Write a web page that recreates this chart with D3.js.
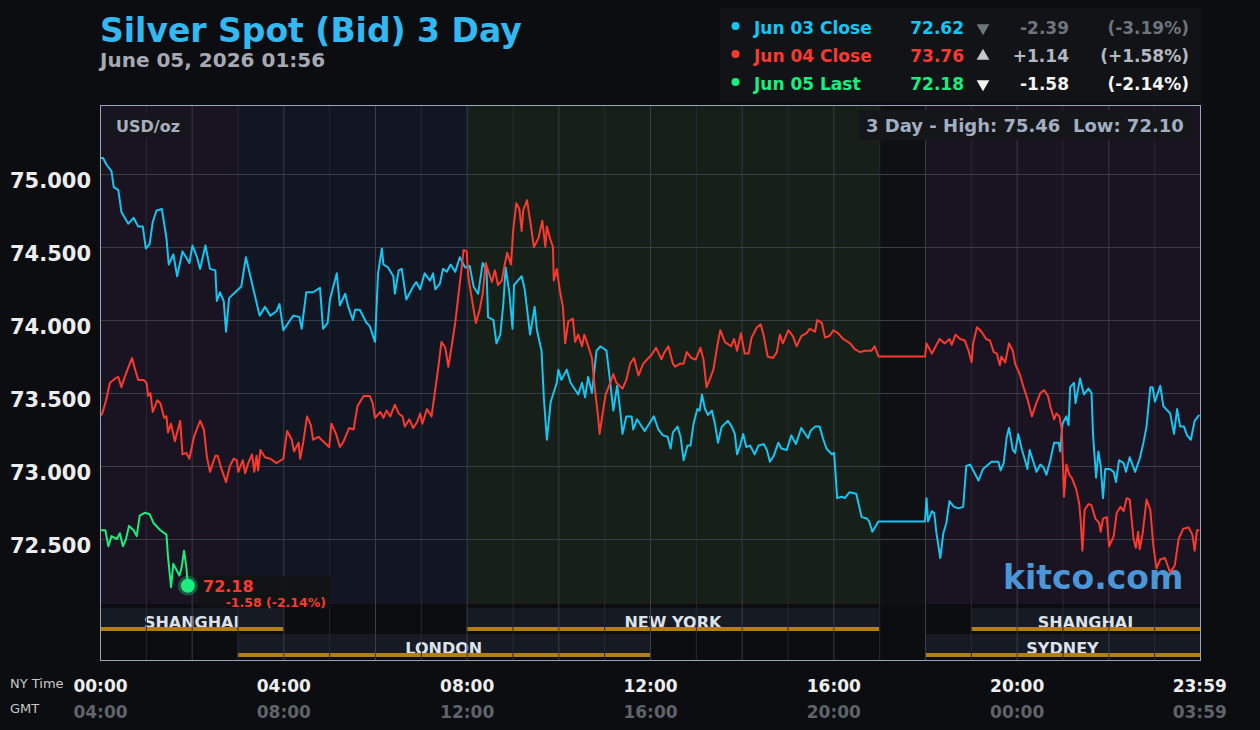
<!DOCTYPE html>
<html>
<head>
<meta charset="utf-8">
<script src="https://cdn.jsdelivr.net/npm/d3@7"></script>
<style>
  body { margin: 0; background: #0b0d10; }
  svg { display: block; font-family: "DejaVu Sans", sans-serif; font-weight: bold; }
</style>
</head>
<body>
<svg id="chart" width="1260" height="730"></svg>
<script>
// ---- data (minute of NY day, bid price) ----
const jun03 = [[0,75.11],[4,75.11],[9,75.06],[15,75.02],[18,74.91],[24,74.89],[28,74.74],[37,74.66],[44,74.70],[50,74.64],[56,74.64],[60,74.49],[65,74.52],[69,74.67],[74,74.75],[81,74.76],[87,74.56],[90,74.38],[96,74.45],[101,74.30],[108,74.47],[117,74.39],[121,74.51],[127,74.43],[131,74.35],[138,74.51],[144,74.35],[151,74.34],[153,74.13],[157,74.19],[162,74.13],[165,73.92],[169,74.15],[177,74.19],[185,74.23],[191,74.43],[199,74.25],[209,74.03],[216,74.09],[223,74.03],[231,74.06],[235,74.11],[240,73.93],[249,74.00],[253,74.03],[261,74.02],[264,73.94],[270,74.19],[279,74.19],[288,74.22],[292,73.94],[298,73.98],[301,74.14],[310,74.32],[314,74.10],[321,74.18],[325,74.09],[331,74.00],[334,74.07],[340,74.07],[349,73.98],[353,73.96],[360,73.85],[364,74.32],[369,74.49],
  [371,74.38],[377,74.36],[384,74.30],[386,74.18],[391,74.34],[395,74.35],[401,74.14],[410,74.23],[414,74.26],[419,74.21],[425,74.32],[432,74.27],[436,74.32],[439,74.21],[445,74.25],[449,74.35],[454,74.33],[459,74.38],[465,74.33],[471,74.43],[478,74.36],[484,74.37],[489,74.23],[495,74.18],[501,74.39],[506,74.34],[508,74.02],[515,74.00],[519,73.84],[524,73.90],[528,74.11],[531,74.36],[536,74.18],[540,73.94],[542,74.24],[552,74.30],[556,74.21],[563,73.90],[569,74.09],[572,73.93],[578,73.79],[581,73.47],[585,73.18],[590,73.44],[598,73.57],[600,73.66],[604,73.59],[611,73.66],[616,73.57],[626,73.49],[631,73.57],[635,73.47],[639,73.61],[644,73.50],[650,73.79],[655,73.82],[663,73.79],[668,73.57],[672,73.38],[677,73.55],[681,73.38],[684,73.22],[689,73.34],[696,73.34],[698,73.25],[703,73.32],[713,73.24],[719,73.29],[725,73.34],[731,73.25],
  [737,73.21],[743,73.20],[747,73.12],[750,73.23],[756,73.27],[760,73.20],[764,73.04],[769,73.14],[773,73.14],[777,73.29],[782,73.39],[785,73.38],[788,73.49],[792,73.39],[796,73.35],[801,73.38],[805,73.29],[809,73.16],[814,73.27],[822,73.31],[827,73.27],[831,73.22],[834,73.08],[838,73.14],[842,73.22],[846,73.13],[851,73.14],[857,73.08],[862,73.14],[869,73.15],[873,73.11],[877,73.03],[882,73.07],[888,73.16],[892,73.12],[899,73.11],[905,73.21],[911,73.15],[918,73.26],[927,73.19],[930,73.24],[936,73.27],[942,73.27],[947,73.18],[951,73.12],[958,73.08],[961,73.09],[963,72.94],[965,72.78],[971,72.79],[975,72.78],[981,72.82],[990,72.81],[994,72.72],[997,72.65],[1004,72.64],[1007,72.62],[1011,72.55],[1019,72.62],[1080,72.62],[1082,72.78],[1084,72.62],[1089,72.69],[1092,72.68],[1095,72.54],[1100,72.37],[1104,72.54],[1108,72.61],[1112,72.76],
  [1118,72.72],[1124,72.71],[1130,72.72],[1134,73.00],[1139,73.01],[1145,72.95],[1150,72.90],[1156,72.98],[1167,73.03],[1176,73.03],[1179,72.97],[1183,73.02],[1187,73.20],[1190,73.26],[1195,73.11],[1198,73.09],[1202,73.22],[1207,73.11],[1211,73.04],[1214,72.98],[1217,73.11],[1223,73.01],[1226,72.96],[1231,73.01],[1235,72.99],[1239,72.94],[1244,73.04],[1249,73.16],[1255,73.16],[1257,73.10],[1260,73.29],[1265,73.34],[1268,73.28],[1270,73.54],[1275,73.57],[1277,73.43],[1283,73.60],[1288,73.49],[1294,73.53],[1298,73.50],[1300,73.21],[1304,72.92],[1307,73.10],[1310,73.00],[1313,72.78],[1316,72.98],[1322,72.98],[1327,72.96],[1330,72.89],[1334,73.04],[1340,73.02],[1343,72.96],[1348,73.06],[1355,72.96],[1361,73.05],[1366,73.16],[1370,73.27],[1375,73.54],[1378,73.54],[1381,73.44],[1388,73.55],[1392,73.41],[1401,73.36],[1406,73.22],[1410,73.39],[1414,73.27],[1419,73.27],[1423,73.21],[1428,73.18],[1433,73.31],[1439,73.35]];

const jun04 = [[0,73.34],[3,73.36],[8,73.45],[13,73.57],[20,73.60],[24,73.61],[28,73.54],[31,73.59],[36,73.66],[42,73.74],[46,73.66],[50,73.59],[57,73.59],[61,73.57],[63,73.48],[66,73.50],[69,73.37],[75,73.45],[79,73.43],[84,73.33],[87,73.34],[89,73.23],[93,73.29],[98,73.17],[105,73.31],[108,73.08],[113,73.09],[117,73.05],[123,73.20],[131,73.31],[136,73.25],[140,73.06],[144,72.96],[151,73.07],[154,73.07],[159,72.98],[165,72.89],[170,73.00],[175,73.05],[179,73.04],[181,72.96],[187,73.04],[190,72.95],[194,73.02],[199,73.08],[202,72.96],[205,73.07],[207,72.97],[210,73.11],[216,73.06],[223,73.05],[231,73.02],[240,73.05],[245,73.24],[251,73.18],[254,73.10],[260,73.16],[262,73.05],[266,73.16],[271,73.34],[276,73.28],[279,73.18],[286,73.20],[292,73.17],[300,73.13],[303,73.29],[309,73.22],[314,73.13],[319,73.17],[326,73.26],[332,73.25],[337,73.41],[345,73.48],[353,73.48],[357,73.43],[360,73.33],[367,73.37],[371,73.33],[375,73.38],[380,73.34],
  [386,73.42],[391,73.36],[396,73.34],[399,73.27],[405,73.32],[410,73.26],[415,73.30],[419,73.36],[422,73.29],[428,73.39],[434,73.34],[439,73.53],[443,73.68],[447,73.85],[452,73.81],[456,73.68],[460,73.81],[465,73.98],[469,74.16],[473,74.34],[476,74.48],[480,74.47],[482,74.30],[487,74.14],[492,73.98],[497,74.07],[501,74.18],[505,74.39],[508,74.34],[513,74.26],[517,74.34],[521,74.24],[526,74.27],[529,74.36],[533,74.46],[538,74.38],[541,74.62],[545,74.80],[549,74.76],[552,74.61],[554,74.75],[559,74.82],[564,74.65],[568,74.50],[574,74.56],[579,74.68],[583,74.50],[585,74.64],[589,74.56],[593,74.50],[594,74.27],[598,74.35],[602,74.20],[606,74.09],[609,73.84],[613,73.99],[619,74.01],[622,73.85],[626,73.90],[631,73.82],[634,73.90],[638,73.84],[644,73.74],[648,73.52],[652,73.34],[654,73.22],[658,73.36],[662,73.49],[668,73.57],[672,73.63],[676,73.57],[684,73.53],[689,73.59],[694,73.70],[699,73.74],[705,73.62],[711,73.70],[718,73.74],[722,73.76],[728,73.81],[735,73.73],
  [738,73.77],[744,73.82],[750,73.70],[753,73.68],[759,73.70],[764,73.70],[768,73.78],[774,73.74],[780,73.73],[786,73.81],[790,73.73],[794,73.54],[798,73.59],[803,73.66],[808,73.82],[812,73.93],[818,73.85],[826,73.82],[830,73.87],[834,73.79],[839,73.91],[844,73.77],[849,73.77],[853,73.88],[860,73.95],[865,73.97],[869,73.89],[874,73.75],[881,73.74],[886,73.78],[890,73.90],[894,73.84],[901,73.93],[907,73.89],[912,73.82],[918,73.89],[925,73.91],[929,73.94],[936,73.92],[939,74.00],[945,73.98],[949,73.88],[955,73.89],[960,73.93],[966,73.91],[973,73.87],[982,73.84],[988,73.80],[995,73.78],[1001,73.79],[1010,73.79],[1014,73.82],[1019,73.75],[1080,73.75],[1082,73.84],[1089,73.77],[1099,73.87],[1106,73.84],[1112,73.87],
  [1115,73.83],[1120,73.90],[1126,73.87],[1132,73.86],[1137,73.79],[1141,73.71],[1143,73.84],[1148,73.95],[1154,73.92],[1160,73.87],[1165,73.86],[1170,73.78],[1174,73.77],[1178,73.69],[1180,73.75],[1185,73.71],[1190,73.84],[1195,73.79],[1198,73.70],[1204,73.63],[1209,73.54],[1214,73.46],[1217,73.40],[1220,73.34],[1225,73.42],[1231,73.50],[1236,73.52],[1241,73.48],[1244,73.41],[1249,73.32],[1252,73.36],[1256,73.34],[1259,73.25],[1262,72.79],[1265,73.01],[1269,72.94],[1272,72.92],[1278,72.84],[1282,72.74],[1284,72.61],[1286,72.42],[1289,72.70],[1294,72.74],[1298,72.73],[1303,72.64],[1308,72.61],[1310,72.55],[1313,72.64],[1318,72.65],[1321,72.45],[1327,72.52],[1331,72.68],[1336,72.72],[1340,72.69],[1344,72.78],[1348,72.77],[1353,72.50],[1356,72.44],[1359,72.55],[1361,72.43],[1365,72.54],[1370,72.77],[1375,72.70],[1379,72.45],[1383,72.30],[1388,72.36],[1394,72.37],[1401,72.27],[1407,72.32],[1412,72.50],[1418,72.57],[1425,72.58],[1430,72.53],[1433,72.42],[1436,72.56],[1439,72.56]];

const jun05 = [[0,72.56],[7,72.56],[11,72.45],[15,72.52],[22,72.50],[26,72.54],[30,72.45],[34,72.50],[38,72.59],[44,72.56],[48,72.52],[52,72.66],[59,72.68],[65,72.67],[70,72.61],[79,72.56],[87,72.53],[89,72.38],[93,72.17],[96,72.33],[99,72.30],[104,72.25],[107,72.31],[110,72.42],[113,72.31],[115,72.18]];

// legend table
const legendNames   = ['Jun 03 Close', 'Jun 04 Close', 'Jun 05 Last'];
const legendPrices  = [72.62, 73.76, 72.18];
const legendChanges = [-2.39, 1.14, -1.58];
const legendPcts    = [-3.19, 1.58, -2.14];
const highLow = [75.46, 72.10];

// axis ticks
const yTicks = [72.5, 73.0, 73.5, 74.0, 74.5, 75.0];
const xTicks = [0, 240, 480, 720, 960, 1200, 1439];
const gmtOffsetMin = 240;

// market zones (hours, NY time) and session bars
const zoneStartH = [0, 3, 8, 17, 18];
const zoneEndH   = [3, 8, 17, 18, 24];
const zoneKind   = ['asia', 'europe', 'us', 'closed', 'asia'];
const sessionNames  = ['SHANGHAI', 'LONDON', 'NEW YORK', 'SYDNEY', 'SHANGHAI'];
const sessionStartH = [0, 3, 8, 18, 19];
const sessionEndH   = [4, 12, 17, 24, 24];
const sessionRow    = [0, 1, 0, 1, 0];

// ---- styles / layout ----
const COLORS = ['#14c6f1', '#fb3a2f', '#19ee7f'];
const CHANGE_COLORS = ['#6f737b', '#b4b8bf', '#f4f4f4'];
const ZONE_FILL = { asia: '#1a1321', europe: '#121622', us: '#171f19', closed: '#0e1013' };
const M = { left: 100, right: 1200, top: 105, priceBottom: 604, bottom: 660 };
const ROW_TOP = [608, 634];

const svg = d3.select('#chart');
const x = d3.scaleLinear().domain([0, 1440]).range([M.left, M.right]);
const y = d3.scaleLinear().domain([72.055, 75.4726]).range([M.priceBottom, M.top]);
const hx = h => x(h * 60);

svg.append('rect').attr('width', 1260).attr('height', 730).attr('fill', '#0b0d10');

// zone shading
svg.append('g').selectAll('rect').data(zoneStartH).join('rect')
  .attr('x', (d, i) => hx(d))
  .attr('y', M.top)
  .attr('width', (d, i) => hx(zoneEndH[i]) - hx(d))
  .attr('height', M.priceBottom - M.top)
  .attr('fill', (d, i) => ZONE_FILL[zoneKind[i]]);

// session bar backgrounds
const sess = svg.append('g');
sess.selectAll('rect').data(sessionNames).join('rect')
  .attr('x', (d, i) => hx(sessionStartH[i]))
  .attr('y', (d, i) => ROW_TOP[sessionRow[i]])
  .attr('width', (d, i) => hx(sessionEndH[i]) - hx(sessionStartH[i]))
  .attr('height', 23)
  .attr('fill', '#151a23');

// vertical hour grid
svg.append('g').selectAll('line').data(d3.range(1, 24)).join('line')
  .attr('x1', d => hx(d) + 0.5).attr('x2', d => hx(d) + 0.5)
  .attr('y1', M.top).attr('y2', M.bottom)
  .attr('stroke', d => d % 2 === 0 ? '#3a3c46' : '#272933')
  .attr('stroke-width', 1);

// horizontal price grid
svg.append('g').selectAll('line').data(yTicks).join('line')
  .attr('x1', M.left).attr('x2', M.right)
  .attr('y1', d => Math.round(y(d)) + 0.5).attr('y2', d => Math.round(y(d)) + 0.5)
  .attr('stroke', '#3a3c46');

// watermark
svg.append('text').attr('x', 1003).attr('y', 589)
  .attr('font-size', 33).attr('fill', '#4a96d6').text('kitco.com');

// price lines
svg.append('clipPath').attr('id', 'clip')
  .append('rect').attr('x', M.left).attr('y', M.top)
  .attr('width', M.right - M.left).attr('height', M.priceBottom - M.top);

const line = d3.line().x(d => x(d[0])).y(d => y(d[1]));
svg.append('g').attr('clip-path', 'url(#clip)')
  .selectAll('path').data([jun03, jun04, jun05]).join('path')
  .attr('d', line)
  .attr('fill', 'none')
  .attr('stroke', (d, i) => COLORS[i])
  .attr('stroke-width', 2)
  .attr('stroke-linejoin', 'round');

// last price marker + label
const last = jun05[jun05.length - 1];
svg.append('rect').attr('x', 198).attr('y', 576).attr('width', 132).attr('height', 31)
  .attr('fill', '#111315').attr('opacity', 0.92);
svg.append('circle').attr('cx', x(last[0])).attr('cy', y(last[1])).attr('r', 10)
  .attr('fill', COLORS[2]).attr('opacity', 0.3);
svg.append('circle').attr('cx', x(last[0])).attr('cy', y(last[1])).attr('r', 7)
  .attr('fill', COLORS[2]);
svg.append('text').attr('x', 203).attr('y', 592).attr('font-size', 16)
  .attr('fill', COLORS[1]).text(legendPrices[2].toFixed(2));
const fmtChg = v => (v > 0 ? '+' : '') + v.toFixed(2);
svg.append('text').attr('x', 326).attr('y', 607).attr('font-size', 12.5)
  .attr('text-anchor', 'end').attr('fill', COLORS[1])
  .text(`${fmtChg(legendChanges[2])} (${fmtChg(legendPcts[2])}%)`);

// session labels + gold underline
sess.selectAll('text').data(sessionNames).join('text')
  .attr('x', (d, i) => (hx(sessionStartH[i]) + hx(sessionEndH[i])) / 2)
  .attr('y', (d, i) => ROW_TOP[sessionRow[i]] + 20)
  .attr('text-anchor', 'middle')
  .attr('font-size', 16)
  .attr('fill', '#dde2ea')
  .text(d => d);
sess.selectAll('rect.bar').data(sessionNames).join('rect')
  .attr('class', 'bar')
  .attr('x', (d, i) => hx(sessionStartH[i]))
  .attr('y', (d, i) => ROW_TOP[sessionRow[i]] + 19)
  .attr('width', (d, i) => hx(sessionEndH[i]) - hx(sessionStartH[i]))
  .attr('height', 4)
  .attr('fill', '#b57d17');

// plot border
svg.append('rect').attr('x', M.left + 0.5).attr('y', M.top + 0.5)
  .attr('width', M.right - M.left).attr('height', M.bottom - M.top)
  .attr('fill', 'none').attr('stroke', '#9aa6b8');

// corner boxes
svg.append('rect').attr('x', 109).attr('y', 115).attr('width', 81).attr('height', 22).attr('fill', '#15171c');
svg.append('text').attr('x', 116).attr('y', 131.5).attr('font-size', 16).attr('fill', '#a9b0bb').text('USD/oz');
svg.append('rect').attr('x', 859).attr('y', 110).attr('width', 333).attr('height', 30).attr('fill', '#14161a');
svg.append('text').attr('x', 866).attr('y', 132).attr('font-size', 18).attr('fill', '#a2afc1')
  .style('white-space', 'pre')
  .text(`3 Day - High: ${highLow[0].toFixed(2)}  Low: ${highLow[1].toFixed(2)}`);

// y axis
const yAxis = svg.append('g').attr('transform', `translate(${M.left},0)`)
  .call(d3.axisLeft(y).tickValues(yTicks).tickSize(0).tickPadding(9).tickFormat(d3.format('.3f')));
yAxis.select('.domain').remove();
yAxis.selectAll('text').attr('font-size', 21).attr('font-family', 'DejaVu Sans')
  .attr('font-weight', 'bold').attr('fill', '#ececec').attr('dy', '0.64em');

// x axes: NY time and GMT
const hhmm = m => d3.format('02')(Math.floor(m / 60) % 24) + ':' + d3.format('02')(m % 60);
function timeAxis(yPos, offset, color) {
  const g = svg.append('g').attr('transform', `translate(0,${yPos})`)
    .call(d3.axisBottom(x).tickValues(xTicks).tickSize(0).tickPadding(0)
      .tickFormat(d => hhmm((d + offset) % 1440)));
  g.select('.domain').remove();
  g.selectAll('text').attr('y', 0).attr('dy', 0).attr('font-size', 17)
    .attr('font-family', 'DejaVu Sans').attr('font-weight', 'bold').attr('fill', color);
}
timeAxis(692, 0, '#eeeeee');
timeAxis(718, gmtOffsetMin, '#5f636a');
svg.append('text').attr('x', 10).attr('y', 688).attr('font-size', 13).attr('font-weight', 'normal')
  .attr('fill', '#c9c9c9').text('NY Time');
svg.append('text').attr('x', 10).attr('y', 713).attr('font-size', 13).attr('font-weight', 'normal')
  .attr('fill', '#c9c9c9').text('GMT');

// title
svg.append('text').attr('x', 100).attr('y', 42).attr('font-size', 33).attr('fill', '#33b9f2')
  .text('Silver Spot (Bid) 3 Day');
svg.append('text').attr('x', 100).attr('y', 67).attr('font-size', 20).attr('fill', '#a6a9b1')
  .text('June 05, 2026 01:56');

// legend
svg.append('rect').attr('x', 720).attr('y', 8).attr('width', 481).attr('height', 94).attr('fill', '#111317');
const rows = svg.append('g').selectAll('g').data(legendNames).join('g')
  .attr('transform', (d, i) => `translate(0,${34 + i * 28})`)
  .attr('font-size', 17);
rows.append('circle').attr('cx', 735.5).attr('cy', -8).attr('r', 4).attr('fill', (d, i) => COLORS[i]);
rows.append('text').attr('x', 754).attr('fill', (d, i) => COLORS[i]).text(d => d);
rows.append('text').attr('x', 964).attr('text-anchor', 'end').attr('fill', (d, i) => COLORS[i])
  .text((d, i) => legendPrices[i].toFixed(2));
rows.append('path')
  .attr('d', d3.symbol(d3.symbolTriangle).size(70))
  .attr('transform', (d, i) => `translate(983,-6) rotate(${legendChanges[i] < 0 ? 180 : 0})`)
  .attr('fill', (d, i) => i === 1 ? '#c5c8ce' : CHANGE_COLORS[i]);
rows.append('text').attr('x', 1069).attr('text-anchor', 'end').attr('fill', (d, i) => CHANGE_COLORS[i])
  .text((d, i) => fmtChg(legendChanges[i]));
rows.append('text').attr('x', 1189).attr('text-anchor', 'end').attr('fill', (d, i) => CHANGE_COLORS[i])
  .text((d, i) => `(${fmtChg(legendPcts[i])}%)`);
</script>
</body>
</html>
